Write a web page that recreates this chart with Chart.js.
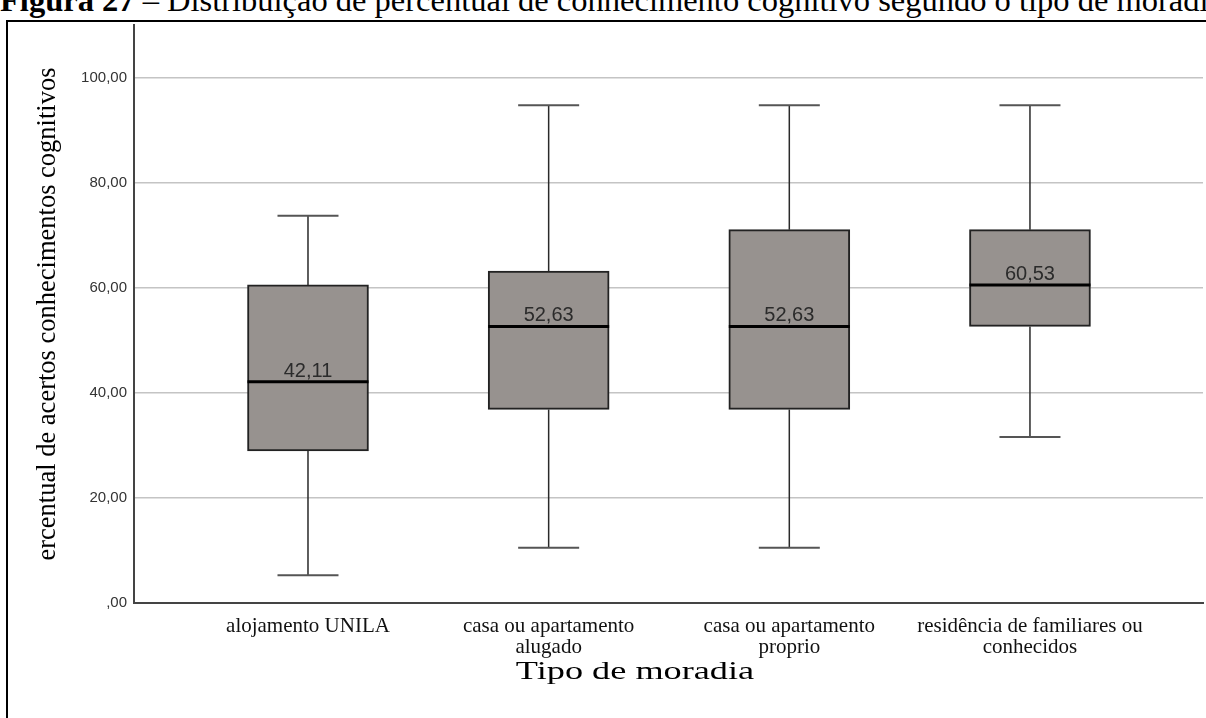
<!DOCTYPE html>
<html>
<head>
<meta charset="utf-8">
<script src="https://cdn.jsdelivr.net/npm/chart.js@4/dist/chart.umd.min.js"></script>
<style>
  html, body { margin: 0; padding: 0; background: #fff; overflow: hidden; }
  #wrap { position: relative; width: 1206px; height: 718px; overflow: hidden; }
  #caption {
    position: absolute; left: 0; top: -16px; white-space: nowrap;
    font-family: "Liberation Serif", serif; font-size: 32.5px; line-height: 32px; color: #000;
  }
  #frame {
    position: absolute; left: 6px; top: 20px; width: 1400px; height: 900px;
    border-left: 2px solid #000; border-top: 2px solid #000;
  }
  #box { position: absolute; left: 0; top: 0; width: 1206px; height: 718px; }
</style>
</head>
<body>
<div id="wrap">
  <div id="caption"><b>Figura 27</b> – Distribuição de percentual de conhecimento cognitivo segundo o tipo de moradia</div>
  <div id="frame"></div>
  <div id="box"><canvas id="myChart"></canvas></div>
</div>
<script>
const categories = [
    ['alojamento UNILA'],
    ['casa ou apartamento', 'alugado'],
    ['casa ou apartamento', 'proprio'],
    ['residência de familiares ou', 'conhecidos']
];
const mins    = [5.26, 10.53, 10.53, 31.58];
const q1      = [28.95, 36.84, 36.84, 52.63];
const medians = [42.11, 52.63, 52.63, 60.53];
const q3      = [60.53, 63.16, 71.05, 71.05];
const maxs    = [73.68, 94.74, 94.74, 94.74];
const yTicks  = [0, 20, 40, 60, 80, 100];

const fmt = (v) => v === 0 ? ',00' : v.toFixed(2).replace('.', ',');

// whiskers, caps, median lines and labels, placed with the chart's scales
const boxExtras = {
    id: 'boxExtras',
    afterDatasetsDraw(chart) {
        const ctx = chart.ctx;
        const xs = chart.scales.x;
        const ys = chart.scales.y;
        const boxW = 121;
        const capW = 61;
        ctx.save();
        categories.forEach((c, i) => {
            const x = xs.getPixelForValue(i);
            const yMin = ys.getPixelForValue(mins[i]);
            const yMax = ys.getPixelForValue(maxs[i]);
            const yQ1 = ys.getPixelForValue(q1[i]);
            const yQ3 = ys.getPixelForValue(q3[i]);
            const yMed = ys.getPixelForValue(medians[i]);

            ctx.strokeStyle = '#2a2a2a';
            ctx.lineWidth = 1.5;
            ctx.beginPath();
            ctx.moveTo(x, yQ3); ctx.lineTo(x, yMax);
            ctx.moveTo(x, yQ1); ctx.lineTo(x, yMin);
            ctx.stroke();

            ctx.strokeStyle = '#555';
            ctx.lineWidth = 2;
            ctx.beginPath();
            ctx.moveTo(x - capW / 2, yMax); ctx.lineTo(x + capW / 2, yMax);
            ctx.moveTo(x - capW / 2, yMin); ctx.lineTo(x + capW / 2, yMin);
            ctx.stroke();

            ctx.strokeStyle = '#000';
            ctx.lineWidth = 3;
            ctx.beginPath();
            ctx.moveTo(x - boxW / 2, yMed); ctx.lineTo(x + boxW / 2, yMed);
            ctx.stroke();

            ctx.fillStyle = '#2b2b2b';
            ctx.font = '20px "Liberation Sans", Arial, sans-serif';
            ctx.textAlign = 'center';
            ctx.textBaseline = 'alphabetic';
            ctx.fillText(fmt(medians[i]), x, yMed - 5);
        });

        // x axis title
        ctx.fillStyle = '#000';
        ctx.font = '25px "Liberation Serif", serif';
        ctx.textAlign = 'center';
        ctx.textBaseline = 'alphabetic';
        ctx.translate(635, 679);
        ctx.scale(1.45, 1);
        ctx.fillText('Tipo de moradia', 0, 0);
        ctx.restore();
    }
};

document.addEventListener('DOMContentLoaded', () => {

    const data = {
        datasets: [{
            label: 'Percentual',
            data: categories.map((c, i) => ({ x: i, y: [q1[i], q3[i]] })),
            backgroundColor: '#97928f',
            borderColor: '#222',
            borderWidth: 2,
            borderSkipped: false,
            barThickness: 121
        }]
    };

    const config = {
        type: 'bar',
        data: data,
        plugins: [boxExtras],
        options: {
            responsive: true,
            maintainAspectRatio: false,
            animation: false,
            layout: {
                padding: { left: 0, right: 3, top: 25, bottom: 0 }
            },
            plugins: {
                legend: { display: false },
                tooltip: { enabled: false }
            },
            scales: {
                x: {
                    type: 'linear',
                    offset: false,
                    min: -0.723,
                    max: 3.719,
                    afterBuildTicks: (s) => { s.ticks = categories.map((c, i) => ({ value: i })); },
                    afterFit: (s) => { s.height = 115; },
                    grid: { display: false, drawTicks: false, offset: false },
                    border: { color: '#444', width: 2 },
                    ticks: {
                        autoSkip: false,
                        maxRotation: 0,
                        padding: 13,
                        color: '#111',
                        font: { family: '"Liberation Serif", serif', size: 21, lineHeight: 1.0 },
                        callback: (v) => categories[v]
                    }
                },
                y: {
                    min: 0,
                    max: 110,
                    afterBuildTicks: (s) => { s.ticks = yTicks.map(v => ({ value: v })); },
                    afterFit: (s) => { s.width = 134; },
                    grid: { color: '#c4c4c4', lineWidth: 1.5, drawTicks: false },
                    border: { color: '#444', width: 2 },
                    title: {
                        display: true,
                        text: 'ercentual de acertos conhecimentos cognitivos',
                        color: '#000',
                        font: { family: '"Liberation Serif", serif', size: 26.5 },
                        padding: { top: 32, bottom: 0 }
                    },
                    ticks: {
                        padding: 7,
                        color: '#333',
                        font: { family: '"Liberation Sans", Arial, sans-serif', size: 15 },
                        callback: (v) => fmt(v)
                    }
                }
            }
        }
    };

    const ctx = document.getElementById('myChart');
    if (ctx) {
        new Chart(ctx, config);
    }
});
</script>
</body>
</html>
